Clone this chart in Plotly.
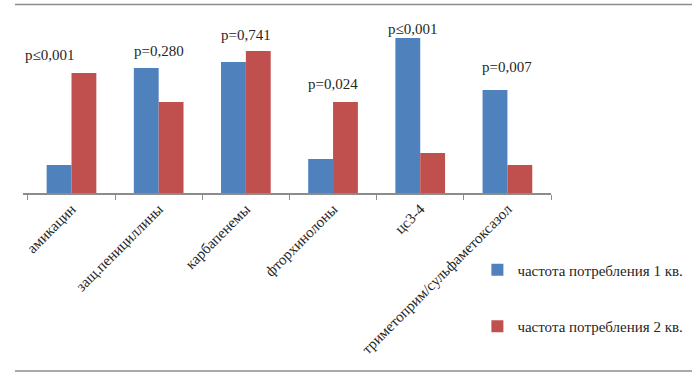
import plotly.graph_objects as go

categories = ["амикацин", "защ.пенициллины", "карбапенемы", "фторхинолоны", "цс3-4",
              "триметоприм/сульфаметоксазол"]
q1_values = [28, 125, 131, 34, 155, 103]
q2_values = [120, 91, 142, 91, 40, 28]
p_labels = ["p≤0,001", "p=0,280", "p=0,741", "p=0,024", "p≤0,001", "p=0,007"]
series_names = ["частота потребления 1 кв.", "частота потребления 2 кв."]

FONT = "Liberation Serif, Times New Roman, serif"
BLUE = "#4F81BD"
RED = "#C0504D"
TXT = "#262626"
label_xshift = [-22, 0, 0, 0, -8, 0]
label_yshift = [8, 7, 6, 8, -1, 13]

fig = go.Figure()
fig.add_trace(go.Bar(x=categories, y=q1_values, name=series_names[0],
                     marker=dict(color=BLUE, line=dict(width=0)), legendgroup="a"))
fig.add_trace(go.Bar(x=categories, y=q2_values, name=series_names[1],
                     marker=dict(color=RED, line=dict(width=0)), legendgroup="b"))

for cat, a, b, lab, xs, ys in zip(categories, q1_values, q2_values, p_labels,
                                  label_xshift, label_yshift):
    fig.add_annotation(x=cat, y=max(a, b), text=lab, showarrow=False,
                       yanchor="bottom", yshift=ys, xshift=xs,
                       font=dict(family=FONT, size=15, color=TXT))

# decorative frame lines (above and below the chart)
for yy in (0.992, -0.9368):
    fig.add_shape(type="line", xref="paper", yref="paper",
                  x0=-0.0152, x1=1.267, y0=yy, y1=yy,
                  line=dict(color="#8c8c8c", width=1.5), layer="above")

fig.update_layout(
    width=700, height=379,
    margin=dict(l=23, r=149, t=3, b=186, autoexpand=False),
    paper_bgcolor="white", plot_bgcolor="white",
    barmode="group", bargap=0.43, bargroupgap=0,
    font=dict(family=FONT, size=15, color=TXT),
    showlegend=True,
    legend=dict(xref="container", yref="container", x=0.682, y=0.331,
                xanchor="left", yanchor="top", traceorder="grouped",
                tracegroupgap=34, font=dict(family=FONT, size=15, color=TXT),
                bgcolor="rgba(0,0,0,0)"),
    xaxis=dict(showline=True, linecolor="#8c8c8c", linewidth=1.5,
               ticks="outside", ticklen=5, tickcolor="#8c8c8c", tickwidth=1,
               tickson="boundaries", tickangle=-45,
               tickfont=dict(family=FONT, size=15, color=TXT),
               showgrid=False, fixedrange=True),
    yaxis=dict(range=[0, 190], visible=False, showgrid=False, fixedrange=True),
    hovermode=False,
)

fig.write_html("out.html", config={"displayModeBar": False, "staticPlot": True},
               post_script="document.body.style.margin='0';document.body.style.overflow='hidden';")
